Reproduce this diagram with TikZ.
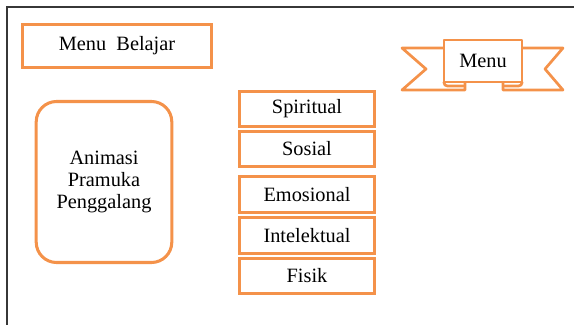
\documentclass[tikz,border=0pt]{standalone}
\usepackage{fontspec}
\setmainfont{Liberation Serif}
\usetikzlibrary{positioning}
\definecolor{boxorange}{RGB}{244,146,74}
\definecolor{framegray}{RGB}{55,55,55}

\tikzset{
  menubox/.style={draw=boxorange, line width=1.8pt, inner sep=0pt,
    font=\fontsize{12}{13}\selectfont},
  itembox/.style={menubox, minimum width=80pt, minimum height=21pt},
  animbox/.style={menubox, rounded corners=12pt, align=center,
    minimum width=80pt, minimum height=95pt},
}

\begin{document}
\begin{tikzpicture}[x=0.59pt, y=-0.59pt]
    \useasboundingbox (0,0) rectangle (574,325);

    % outer frame, only top and left show
    \draw[framegray, line width=1.2pt] (7,325) -- (7,7) -- (574,7);

    \node[menubox, minimum width=111pt, minimum height=25pt] (belajar) at (117,46) {Menu~~Belajar};

    \node[animbox] (animasi) at (104,182) {Animasi\\Pramuka\\Penggalang};

    % the five items
    \node[itembox] (spiritual) at (307,109) {Spiritual};
    \node[itembox] (sosial) at (307,149) {Sosial};
    \node[itembox] (emosional) at (307,194.5) {Emosional};
    \node[itembox] (intelektual) at (307,235.5) {Intelektual};
    \node[itembox] (fisik) at (307,276) {Fisik};

    % ribbon
    \begin{scope}[draw=boxorange, line width=1.6pt, line join=round]
      \draw (444,48) -- (402,48) -- (426,69) -- (402,90) -- (465,90) -- (465,82);
      \draw (522,48) -- (563,48) -- (545,69) -- (563,90) -- (503,90) -- (503,82);
      \draw[rounded corners=2pt] (444,82) -- (444,86) -- (465,86);
      \draw[rounded corners=2pt] (522,82) -- (522,86) -- (503,86);
      \draw[fill=white] (444,40) rectangle (522,82);
    \end{scope}
    \node[font=\fontsize{12}{13}\selectfont] (menu) at (483,61) {Menu};
\end{tikzpicture}
\end{document}
